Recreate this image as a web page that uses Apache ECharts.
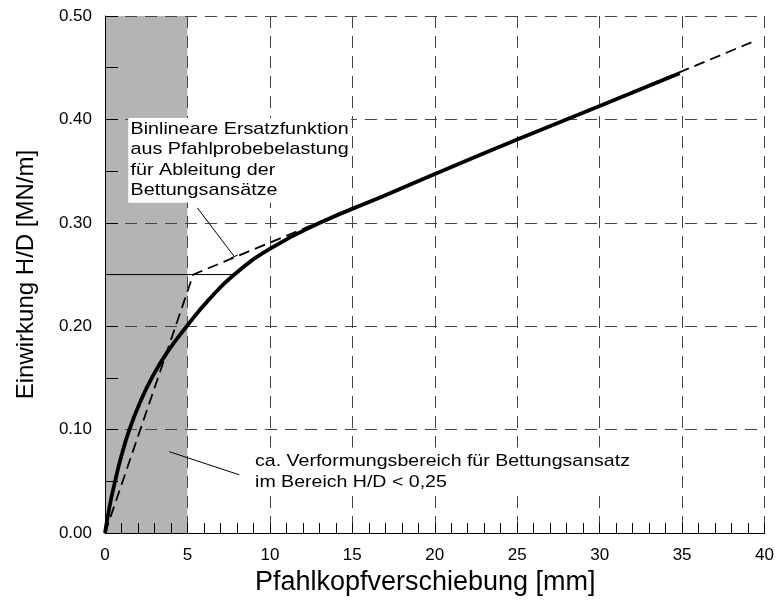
<!DOCTYPE html>
<html><head><meta charset="utf-8">
<script src="https://cdn.jsdelivr.net/npm/echarts@6/dist/echarts.min.js"></script>
<style>html,body{margin:0;padding:0;background:#fff}#c{width:777px;height:601px}</style>
</head><body><div id="c"></div>
<script>
// ---- data ----
const curveX = [0, 0.27, 0.61, 1.0, 1.48, 2.09, 2.84, 3.78, 4.96, 6.26, 7.84, 10.02, 13.04, 16.75, 20.4, 25.0, 30.0, 34.85];
const curveY = [0, 0.025, 0.05, 0.075, 0.10, 0.125, 0.15, 0.175, 0.20, 0.225, 0.25, 0.275, 0.300, 0.325, 0.350, 0.3805, 0.413, 0.4446];
const bilinX = [0, 5.35, 39.2];
const bilinY = [0, 0.25, 0.4745];
const refLineX = [0, 7.8];
const refLineY = [0.25, 0.25];
const shadeX = [0, 5];
const leader1X = [5.6, 7.84];
const leader1Y = [0.3145, 0.2674];
const leader1BarX = [7.62, 8.05];
const leader1BarY = [0.2660, 0.2688];
const leader2X = [3.9, 8.14];
const leader2Y = [0.0787, 0.0564];
const note1Lines = ['Binlineare Ersatzfunktion', 'aus Pfahlprobebelastung', 'für Ableitung der', 'Bettungsansätze'];
const note1Pos = [1.41, 0.4013];
const note2Lines = ['ca. Verformungsbereich für Bettungsansatz', 'im Bereich H/D < 0,25'];
const note2Pos = [8.96, 0.0828];
const xTickLabels = ['0', '5', '10', '15', '20', '25', '30', '35', '40'];
const yTickLabels = ['0.00', '0.10', '0.20', '0.30', '0.40', '0.50'];
const xAxisTitle = 'Pfahlkopfverschiebung [mm]';
const yAxisTitle = 'Einwirkung H/D [MN/m]';
const xMin = 0, xMax = 40, xStep = 5;
const yMin = 0, yMax = 0.5, yStep = 0.1;

const zip = (a, b) => a.map((v, i) => [v, b[i]]);
const FONT = 'Liberation Sans, Arial, sans-serif';
const gridLine = { show: true, lineStyle: { color: '#444', width: 1, type: [12, 8] } };

const chart = echarts.init(document.getElementById('c'), null, { renderer: 'canvas' });
const thinBlack = { color: '#000', width: 1 };
chart.setOption({
  animation: false,
  backgroundColor: '#fff',
  grid: { left: 105, right: 11, top: 16, bottom: 62, containLabel: false },
  xAxis: {
    type: 'value', min: xMin, max: xMax, interval: xStep,
    name: xAxisTitle, nameLocation: 'middle', nameGap: 33,
    nameTextStyle: { fontFamily: FONT, fontSize: 27, color: '#000', padding: [0, 19, 0, 0] },
    axisLine: { show: true, onZero: false, lineStyle: thinBlack },
    axisTick: { show: true, inside: true, length: 10, lineStyle: thinBlack },
    minorTick: { show: true, splitNumber: 5, length: 10, lineStyle: thinBlack },
    axisLabel: { fontFamily: FONT, fontSize: 17, color: '#000', margin: 14,
      formatter: (v) => xTickLabels[Math.round((v - xMin) / xStep)] },
    splitLine: gridLine
  },
  yAxis: {
    type: 'value', min: yMin, max: yMax, interval: yStep,
    name: yAxisTitle, nameLocation: 'middle', nameGap: 67, nameRotate: 90,
    nameTextStyle: { fontFamily: FONT, fontSize: 24, color: '#000' },
    axisLine: { show: true, onZero: false, lineStyle: thinBlack },
    axisTick: { show: true, inside: true, length: 13, lineStyle: thinBlack },
    minorTick: { show: true, splitNumber: 2, length: 13, lineStyle: thinBlack },
    axisLabel: { fontFamily: FONT, fontSize: 17, color: '#000', margin: 13,
      formatter: (v) => yTickLabels[Math.round((v - yMin) / yStep)] },
    splitLine: gridLine
  },
  series: [
    {
      type: 'custom', z: -1, silent: true,
      data: [[shadeX[0], shadeX[1], yMin, yMax]],
      encode: { x: [0, 1], y: [2, 3] },
      renderItem: (params, api) => {
        const p0 = api.coord([api.value(0), api.value(3)]);
        const p1 = api.coord([api.value(1), api.value(2)]);
        return { type: 'rect', shape: { x: p0[0], y: p0[1], width: p1[0] - p0[0], height: p1[1] - p0[1] },
          style: { fill: '#b4b4b4' } };
      }
    },
    { type: 'line', data: zip(refLineX, refLineY), symbol: 'none', lineStyle: thinBlack, z: 3 },
    { type: 'line', data: zip(leader1X, leader1Y), symbol: 'none', lineStyle: thinBlack, z: 3 },
    { type: 'line', data: zip(leader1BarX, leader1BarY), symbol: 'none', lineStyle: thinBlack, z: 3 },
    { type: 'line', data: zip(leader2X, leader2Y), symbol: 'none', lineStyle: thinBlack, z: 3 },
    { type: 'line', data: zip(bilinX, bilinY), symbol: 'none', z: 4,
      lineStyle: { color: '#000', width: 1.8, type: [11, 6] } },
    { type: 'line', data: zip(curveX, curveY), symbol: 'none', smooth: 0.5, z: 5,
      lineStyle: { color: '#000', width: 3.8, cap: 'butt', join: 'round' } }
  ]
});

function note(lines, pos, scaleX, pad) {
  const p = chart.convertToPixel({ gridIndex: 0 }, pos);
  return {
    type: 'text', x: p[0], y: p[1], scaleX: scaleX, z: 100, silent: true,
    style: {
      text: lines.join('\n'), x: 0, y: 0, fill: '#000',
      font: '17px ' + FONT, lineHeight: 20.4,
      verticalAlign: 'top', align: 'left',
      backgroundColor: '#fff', padding: pad
    }
  };
}
chart.setOption({
  graphic: [
    note(note1Lines, note1Pos, 1.16, [1, 2, 2, 2]),
    note(note2Lines, note2Pos, 1.15, [4, 2, 1, 2])
  ]
});
</script>
</body></html>
